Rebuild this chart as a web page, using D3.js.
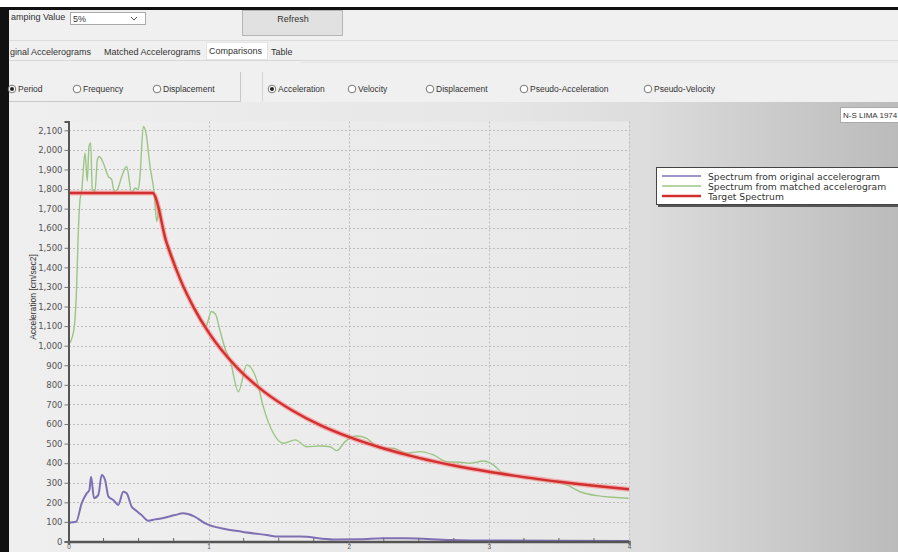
<!DOCTYPE html>
<html><head><meta charset="utf-8">
<script src="https://cdn.jsdelivr.net/npm/d3@7"></script>
<style>
html,body{margin:0;padding:0;background:#fff;overflow:hidden;}
svg{display:block;font-family:"Liberation Sans",Arial,sans-serif;}
</style></head>
<body>
<svg id="c" width="898" height="552"></svg>
<script>
// ---- data ----
const yTicks = [0,100,200,300,400,500,600,700,800,900,1000,1100,1200,1300,1400,1500,1600,1700,1800,1900,2000,2100];
const xTicks = [0,1,2,3,4];
const seriesNames = ["Spectrum from original accelerogram","Spectrum from matched accelerogram","Target Spectrum"];

const targetPeriod = [0,0.6,0.7,0.8,0.9,1.0,1.2,1.4,1.6,1.8,2.0,2.25,2.5,2.75,3.0,3.25,3.5,3.75,4.0];
const targetAcc    = [1780,1780,1526,1335,1187,1068,890,763,668,593,534,475,427,388,356,329,305,285,267];

const matchedPeriod = [0,0.025,0.043,0.057,0.068,0.082,0.094,0.118,0.134,0.146,0.158,0.170,0.189,0.206,0.220,0.248,0.284,0.308,0.325,0.348,0.380,0.415,0.451,0.475,0.498,0.510,0.534,0.553,0.582,0.610,0.630,0.648,0.68,0.72,0.76,0.80,0.85,0.90,0.95,0.98,1.02,1.05,1.08,1.12,1.153,1.212,1.272,1.343,1.390,1.462,1.533,1.617,1.700,1.795,1.867,1.914,1.974,2.057,2.128,2.223,2.318,2.414,2.509,2.604,2.699,2.794,2.866,2.961,3.032,3.103,3.223,3.342,3.460,3.556,3.651,3.770,3.889,3.996];
const matchedAcc    = [1005,1040,1106,1285,1540,1745,1790,1985,1840,2018,2035,1796,1787,1950,1966,1933,1864,1850,1788,1797,1864,1915,1779,1805,1797,1864,2120,2086,1915,1788,1634,1711,1560,1500,1420,1330,1250,1180,1120,1100,1175,1160,1080,980,927,765,902,825,689,553,502,519,484,488,484,464,510,539,527,476,476,451,459,442,408,405,400,411,391,348,331,314,306,289,254,234,226,221];

const originalPeriod = [0,0.055,0.094,0.130,0.149,0.161,0.182,0.213,0.237,0.261,0.285,0.320,0.355,0.391,0.415,0.451,0.477,0.521,0.569,0.617,0.660,0.760,0.818,0.893,0.975,1.116,1.236,1.414,1.500,1.653,1.891,2.081,2.247,2.400,2.726,3.0,3.5,4.0];
const originalAcc    = [96,101,195,246,263,331,221,238,340,314,229,212,187,254,246,178,161,135,106,113,118,135,144,130,93,64,50,33,25,25,10,11,16,16,8,5,4,3];

// ---- layout ----
const W=898,H=552;
const svg=d3.select("#c");
const defs=svg.append("defs");
const g1=defs.append("linearGradient").attr("id","panelGrad").attr("x1","0").attr("x2","1").attr("y1","0").attr("y2","0");
g1.append("stop").attr("offset","0").attr("stop-color","#efefef");
g1.append("stop").attr("offset","0.55").attr("stop-color","#e6e6e6");
g1.append("stop").attr("offset","0.72").attr("stop-color","#dcdcdc");
g1.append("stop").attr("offset","1").attr("stop-color","#bbbbbb");
const g2=defs.append("linearGradient").attr("id","plotGrad").attr("x1","0").attr("x2","1").attr("y1","0").attr("y2","0");
g2.append("stop").attr("offset","0").attr("stop-color","#efefef");
g2.append("stop").attr("offset","1").attr("stop-color","#e8e8e8");

svg.append("rect").attr("x",0).attr("y",0).attr("width",W).attr("height",H).attr("fill","#ffffff");
svg.append("rect").attr("x",9).attr("y",10).attr("width",W-9).attr("height",92).attr("fill","#f0f0f0");
svg.append("rect").attr("x",9).attr("y",102).attr("width",W-9).attr("height",H-102).attr("fill","url(#panelGrad)");
svg.append("rect").attr("x",0).attr("y",7).attr("width",W).attr("height",3).attr("fill","#111");
svg.append("rect").attr("x",0).attr("y",7).attr("width",9).attr("height",H-7).attr("fill","#111");

const ui=svg.append("g").attr("font-size",9).attr("fill","#333");
ui.append("text").attr("x",11).attr("y",20).text("amping Value");
ui.append("rect").attr("x",70.5).attr("y",12.5).attr("width",75).attr("height",12).attr("fill","#fff").attr("stroke","#a9a9a9");
ui.append("text").attr("x",73).attr("y",21.5).text("5%");
ui.append("path").attr("d","M131,17 l3,3 l3,-3").attr("fill","none").attr("stroke","#555");
ui.append("rect").attr("x",242.5).attr("y",10.5).attr("width",100).attr("height",25).attr("fill","#e1e1e1").attr("stroke","#b5b5b5");
ui.append("text").attr("x",293).attr("y",22).attr("text-anchor","middle").text("Refresh");
ui.append("line").attr("x1",9).attr("x2",W).attr("y1",40.5).attr("y2",40.5).attr("stroke","#dcdcdc");
ui.append("rect").attr("x",206.5).attr("y",42.5).attr("width",61).attr("height",17).attr("fill","#fff").attr("stroke","#e3e3e3");
ui.append("text").attr("x",10).attr("y",55).text("ginal Accelerograms");
ui.append("text").attr("x",104).attr("y",55).text("Matched Accelerograms");
ui.append("text").attr("x",209).attr("y",54).text("Comparisons");
ui.append("text").attr("x",271).attr("y",55).text("Table");
ui.append("line").attr("x1",9).attr("x2",W).attr("y1",60.5).attr("y2",60.5).attr("stroke","#d8d8d8");
ui.append("line").attr("x1",300).attr("x2",W).attr("y1",62.5).attr("y2",62.5).attr("stroke","#e4e4e4");
ui.append("path").attr("d","M9,101.5 H240.5 V72").attr("fill","none").attr("stroke","#c8c8c8");
ui.append("path").attr("d","M262.5,101.5 V72").attr("fill","none").attr("stroke","#d4d4d4");
const radios=[[12,"Period",true],[77,"Frequency",false],[157,"Displacement",false],[272,"Acceleration",true],[352,"Velocity",false],[430,"Displacement",false],[524,"Pseudo-Acceleration",false],[648,"Pseudo-Velocity",false]];
radios.forEach(([x,t,on])=>{
  ui.append("circle").attr("cx",x).attr("cy",89).attr("r",3.8).attr("fill","#fff").attr("stroke","#555").attr("stroke-width",0.8);
  if(on) ui.append("circle").attr("cx",x).attr("cy",89).attr("r",2).attr("fill","#222");
  ui.append("text").attr("x",x+6).attr("y",92).attr("font-size",8.5).text(t);
});

// ---- chart ----
const x=d3.scaleLinear().domain([0,4]).range([68.5,629]);
const y=d3.scaleLinear().domain([0,2145]).range([541.5,121.5]);
svg.append("rect").attr("x",68.5).attr("y",121.5).attr("width",560.5).attr("height",420).attr("fill","url(#plotGrad)");

const grid=svg.append("g");
grid.selectAll("line.h").data(yTicks.filter(d=>d>0)).enter().append("line")
  .attr("x1",69).attr("x2",629).attr("y1",d=>Math.round(y(d))+0.5).attr("y2",d=>Math.round(y(d))+0.5)
  .attr("stroke","#bcbcbc").attr("stroke-dasharray","2,2");
grid.selectAll("line.v").data(xTicks.filter(d=>d>0)).enter().append("line")
  .attr("x1",d=>Math.round(x(d))+0.5).attr("x2",d=>Math.round(x(d))+0.5).attr("y1",121.5).attr("y2",541)
  .attr("stroke","#bcbcbc").attr("stroke-dasharray","2,2");

const line=(px,py)=>d3.line().x((d,i)=>x(px[i])).y((d,i)=>y(py[i])).curve(d3.curveMonotoneX)(px);

svg.append("path").attr("d",line(originalPeriod,originalAcc)).attr("fill","none").attr("stroke","#7f70b4").attr("stroke-width",2);
svg.append("path").attr("d",line(matchedPeriod,matchedAcc)).attr("fill","none").attr("stroke","#9cc585").attr("stroke-width",1.4);
svg.append("path").attr("d",line(targetPeriod,targetAcc)).attr("fill","none").attr("stroke","rgba(245,130,130,0.55)").attr("stroke-width",5);
svg.append("path").attr("d",line(targetPeriod,targetAcc)).attr("fill","none").attr("stroke","#d42f2f").attr("stroke-width",2.4);

const ya=svg.append("g").attr("transform","translate(68.5,0)")
  .call(d3.axisLeft(y).tickValues(yTicks).tickSize(4).tickPadding(2).tickFormat(d3.format(",")));
ya.select(".domain").attr("stroke","#555").attr("stroke-width",2);
ya.selectAll(".tick line").attr("stroke","#777");
ya.selectAll("text").attr("fill","#555").attr("font-size",8.5).attr("font-family","DejaVu Sans, sans-serif");

const xa=svg.append("g").attr("transform","translate(0,541.5)")
  .call(d3.axisBottom(x).tickValues(xTicks).tickSize(3).tickPadding(1).tickFormat(d3.format("d")));
xa.select(".domain").attr("stroke","#555").attr("stroke-width",2.5);
xa.selectAll(".tick line").attr("stroke","#777");
xa.selectAll("text").attr("fill","#555").attr("font-size",6.5).attr("dy","0.55em");
const minor=d3.range(0,4.01,0.25).filter(d=>d%1!==0);
svg.append("g").selectAll("line").data(minor).enter().append("line")
  .attr("x1",d=>x(d)).attr("x2",d=>x(d)).attr("y1",538).attr("y2",541).attr("stroke","#666");

svg.append("text").attr("transform","translate(36,297) rotate(-90)").attr("text-anchor","middle")
  .attr("font-size",8.5).attr("fill","#333").text("Acceleration [cm/sec2]");

svg.append("rect").attr("x",840.5).attr("y",107.5).attr("width",62).attr("height",15).attr("fill","#fff").attr("stroke","#aaa");
svg.append("text").attr("x",843).attr("y",118).attr("font-size",8).attr("fill","#333").text("N-S LIMA 1974");

const lg=svg.append("g");
lg.append("rect").attr("x",658).attr("y",169).attr("width",260).attr("height",38).attr("fill","#555");
lg.append("rect").attr("x",656.5).attr("y",167.5).attr("width",260).attr("height",37).attr("fill","#fff").attr("stroke","#444");
const lc=[["#7f70b4",1.5],["#9cc585",1.3],["#d42f2f",2.6]];
seriesNames.forEach((n,i)=>{
  const yy=176+i*10;
  lg.append("line").attr("x1",662).attr("x2",701).attr("y1",yy).attr("y2",yy).attr("stroke",lc[i][0]).attr("stroke-width",lc[i][1]);
  lg.append("text").attr("x",708).attr("y",yy+3.5).attr("font-size",9.2).attr("font-family","DejaVu Sans, sans-serif").attr("fill","#333").text(n);
});
</script>
</body></html>
